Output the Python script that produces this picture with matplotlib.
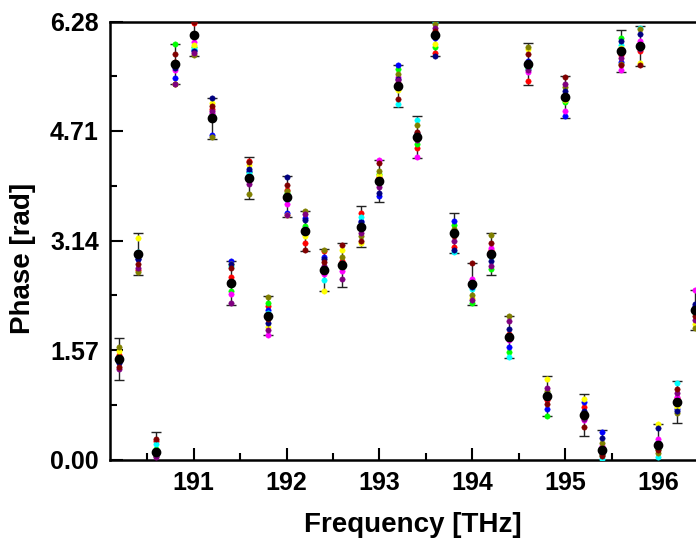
import numpy as np
import matplotlib
matplotlib.use("Agg")
import matplotlib.pyplot as plt

# Frequency grid (THz)
freq = [190.2, 190.4, 190.6, 190.8, 191.0, 191.2, 191.4, 191.6, 191.8, 192.0,
        192.2, 192.4, 192.6, 192.8, 193.0, 193.2, 193.4, 193.6, 193.8, 194.0,
        194.2, 194.4, 194.6, 194.8, 195.0, 195.2, 195.4, 195.6, 195.8, 196.0,
        196.2, 196.4]

# Individual measurement runs (rad)
run_red = [1.50, 2.72, 0.27, 5.70, 6.26, 5.03, 2.61, 4.28, 2.20, 3.87,
           3.11, 2.99, 2.85, 3.54, 4.05, 5.40, 4.47, 5.83, 3.05, 2.55,
           3.00, 1.80, 5.43, 0.85, 5.22, 0.75, 0.10, 5.80, 5.85, 0.20,
           0.88, 2.18]
run_green = [1.47, 2.93, 0.15, 5.96, 5.92, 4.95, 2.42, 4.12, 2.24, 3.82,
             3.35, 2.70, 2.75, 3.36, 4.10, 5.60, 4.53, 5.92, 3.36, 2.25,
             2.73, 1.54, 5.62, 0.63, 5.12, 0.60, 0.06, 6.05, 5.95, 0.15,
             0.80, 2.10]
run_blue = [1.40, 2.88, 0.08, 5.47, 5.87, 4.65, 2.84, 4.14, 2.14, 3.54,
            3.46, 2.91, 2.82, 3.42, 3.78, 5.66, 4.65, 6.05, 3.42, 2.50,
            2.95, 1.61, 5.72, 0.73, 4.92, 0.83, 0.40, 5.70, 5.90, 0.25,
            0.72, 2.20]
run_cyan = [1.42, 2.98, 0.22, 5.65, 5.88, 4.90, 2.78, 4.09, 2.10, 3.72,
            3.30, 2.57, 2.80, 3.48, 4.00, 5.09, 4.87, 6.27, 2.97, 2.45,
            2.90, 1.47, 5.60, 0.95, 5.18, 0.62, 0.01, 5.95, 6.19, 0.03,
            1.09, 2.12]
run_magenta = [1.45, 2.95, 0.10, 5.59, 5.99, 4.97, 2.38, 4.00, 1.78, 3.67,
               3.25, 2.66, 2.70, 3.30, 4.29, 5.48, 4.34, 6.12, 3.22, 2.59,
               3.03, 1.72, 5.55, 0.88, 5.00, 0.56, 0.20, 5.59, 6.00, 0.30,
               0.90, 2.43]
run_yellow = [1.55, 3.18, 0.12, 5.38, 5.94, 5.11, 2.81, 4.22, 1.90, 3.50,
              3.20, 2.42, 3.00, 3.10, 4.08, 5.30, 4.60, 5.96, 3.28, 2.32,
              2.92, 1.75, 5.88, 1.15, 5.15, 0.87, 0.12, 5.90, 5.69, 0.51,
              0.75, 1.94]
run_olive = [1.61, 2.69, 0.05, 5.38, 5.80, 4.63, 2.55, 3.80, 2.33, 3.85,
             3.57, 3.01, 2.90, 3.21, 4.14, 5.53, 4.79, 6.25, 3.30, 2.36,
             3.22, 2.06, 5.91, 0.98, 5.34, 0.66, 0.24, 5.67, 6.17, 0.10,
             0.66, 1.88]
run_navy = [1.38, 2.87, 0.06, 5.62, 5.85, 5.18, 2.80, 4.17, 1.95, 4.05,
            3.44, 2.87, 2.78, 3.40, 3.82, 5.45, 4.68, 5.79, 3.00, 2.48,
            2.85, 1.87, 5.65, 0.90, 5.28, 0.70, 0.31, 6.00, 6.10, 0.45,
            0.70, 2.23]
run_purple = [1.30, 2.75, 0.04, 5.39, 5.83, 5.00, 2.25, 3.95, 1.85, 3.50,
              3.52, 2.78, 2.59, 3.25, 3.90, 5.44, 4.58, 6.19, 3.13, 2.28,
              2.77, 1.99, 5.58, 1.03, 5.39, 0.58, 0.08, 5.75, 5.88, 0.18,
              0.95, 2.00]
run_wine = [1.33, 2.80, 0.30, 5.82, 6.27, 5.07, 2.74, 4.26, 2.02, 3.94,
            3.00, 2.83, 3.07, 3.13, 4.25, 5.17, 4.70, 6.15, 3.20, 2.82,
            3.10, 1.78, 5.81, 0.79, 5.48, 0.47, 0.05, 5.66, 5.65, 0.13,
            1.01, 2.06]

# Averaged phase and its uncertainty (rad)
phase_mean = [1.44, 2.95, 0.11, 5.67, 6.09, 4.89, 2.53, 4.04, 2.06, 3.77,
              3.28, 2.72, 2.79, 3.34, 3.99, 5.36, 4.62, 6.08, 3.25, 2.52,
              2.95, 1.76, 5.67, 0.91, 5.20, 0.64, 0.14, 5.86, 5.93, 0.21,
              0.83, 2.14]
phase_err = [0.30, 0.30, 0.29, 0.29, 0.30, 0.30, 0.31, 0.30, 0.28, 0.30,
             0.29, 0.30, 0.31, 0.30, 0.30, 0.30, 0.30, 0.29, 0.29, 0.30,
             0.30, 0.30, 0.30, 0.29, 0.30, 0.30, 0.28, 0.30, 0.29, 0.30,
             0.30, 0.29]

y_ticks = [0.0, 1.57, 3.14, 4.71, 6.28]
y_tick_labels = ["0.00", "1.57", "3.14", "4.71", "6.28"]
x_ticks = [191, 192, 193, 194, 195, 196]

runs = [
    (run_red, "#ff0000"),
    (run_green, "#00ff00"),
    (run_blue, "#0000ff"),
    (run_cyan, "#00ffff"),
    (run_magenta, "#ff00ff"),
    (run_yellow, "#ffff00"),
    (run_olive, "#808000"),
    (run_navy, "#000080"),
    (run_purple, "#800080"),
    (run_wine, "#800000"),
]

plt.rcParams["font.family"] = ["Liberation Sans", "DejaVu Sans"]
plt.rcParams["font.weight"] = "bold"

W, H = 696, 545
fig = plt.figure(figsize=(W / 100, H / 100), dpi=100)
x0, x1 = 190.1, 196.7
px_per_thz = 92.9
left, bottom, top = 110, 85.5, 21.5
ax = fig.add_axes([left / W, bottom / H,
                   (x1 - x0) * px_per_thz / W, (H - bottom - top) / H])

ax.errorbar(freq, phase_mean, yerr=phase_err, fmt="none", ecolor="#222222",
            elinewidth=1.0, capsize=3.6, capthick=1.0, zorder=2)
for vals, col in runs:
    ax.plot(freq, vals, "o", ms=3.9, color=col, mec=col, mew=0.3,
            zorder=3, clip_on=True)
ax.plot(freq, phase_mean, "o", ms=6.0, color="black", zorder=4)

ax.set_xlim(x0, x1)
ax.set_ylim(0, 6.28)
ax.set_xticks(x_ticks)
ax.set_xticklabels([str(t) for t in x_ticks])
ax.set_xticks(np.arange(190.5, 196.6, 1.0), minor=True)
ax.set_yticks(y_ticks)
ax.set_yticklabels(y_tick_labels)
ax.set_yticks([0.785, 2.355, 3.925, 5.495], minor=True)

for s in ax.spines.values():
    s.set_linewidth(1.8)
ax.tick_params(which="major", direction="in", length=9, width=1.5,
               labelsize=18, pad=8)
ax.tick_params(which="minor", direction="in", length=5, width=1.5)
for lab in ax.get_xticklabels() + ax.get_yticklabels():
    lab.set_fontweight("bold")

ax.set_xlabel("Frequency [THz]", fontsize=20, fontweight="bold")
ax.set_ylabel("Phase [rad]", fontsize=20, fontweight="bold")
ax.xaxis.set_label_coords(0.494, -0.15)
ax.yaxis.set_label_coords(-0.142, 0.46)
ax.yaxis.label.set_va("center")
ax.xaxis.label.set_va("center")

fig.savefig("out.png", dpi=100)
